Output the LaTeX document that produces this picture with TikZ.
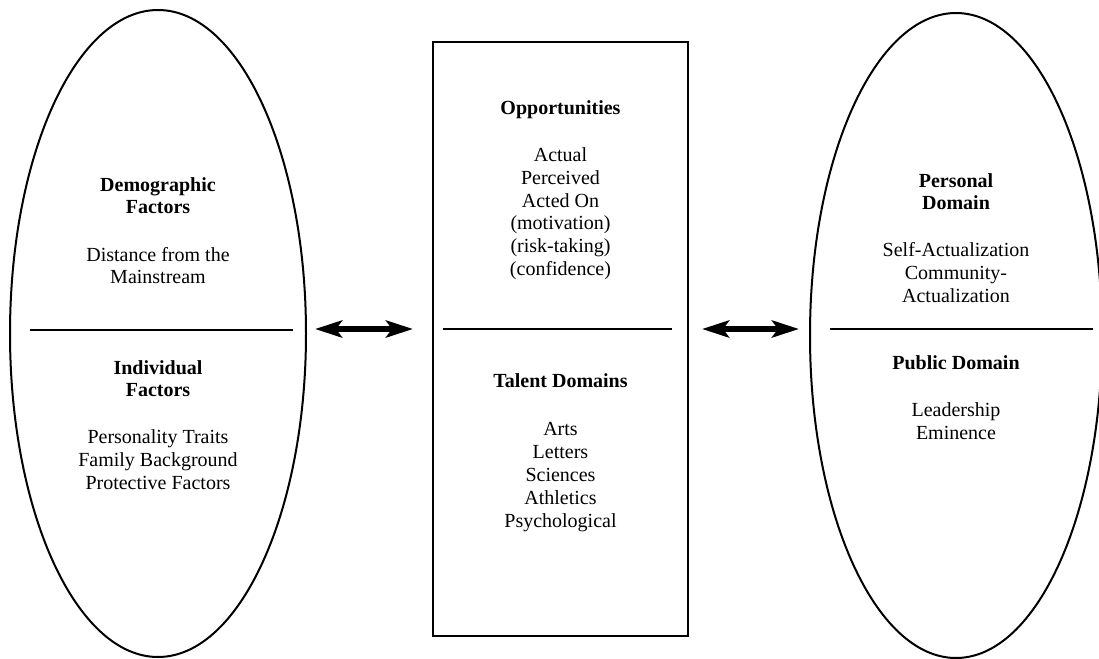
\documentclass[tikz,border=0pt]{standalone}
\usepackage{fontspec}
\setmainfont{Liberation Serif}
\usetikzlibrary{shapes.geometric,arrows.meta}

\begin{document}
\begin{tikzpicture}[x=0.5pt,y=-0.5pt,
  outline/.style={draw=black, line width=1pt, inner sep=0pt},
  oval/.style={outline, ellipse},
  panel/.style={outline, rectangle},
  divider/.style={draw=black, line width=0.7pt},
  twoway/.style={line width=3pt, {Stealth[length=13.5pt,width=8.5pt,inset=3pt]}-{Stealth[length=13.5pt,width=8.5pt,inset=3pt]}},
  txt/.style={align=center, inner sep=0pt, font=\fontsize{10}{11.4}\selectfont},
  head/.style={txt, font=\fontsize{10}{11.4}\selectfont\bfseries}]

  % page frame
  \useasboundingbox (0,0) rectangle (1099,659);
  \clip (0,0) rectangle (1099,659);

  % three main shapes
  \node[oval, minimum width=148pt, minimum height=323.5pt] (L) at (158,333.5) {};
  \node[panel, minimum width=127.5pt, minimum height=297pt] (C) at (560.5,339) {};
  \node[oval, minimum width=146pt, minimum height=322.5pt] (R) at (956,335.5) {};

  % dividers
  \coordinate (l1) at (30,330);   \coordinate (l2) at (293,330);
  \coordinate (c1) at (443,329);  \coordinate (c2) at (672,329);
  \coordinate (r1) at (830,329);  \coordinate (r2) at (1093,329);
  \draw[divider] (l1) -- (l2);
  \draw[divider] (c1) -- (c2);
  \draw[divider] (r1) -- (r2);

  % two-way arrows
  \coordinate (a1) at (315,329);  \coordinate (b1) at (413,329);
  \coordinate (a2) at (702,329);  \coordinate (b2) at (799,329);
  \draw[twoway] (a1) -- (b1);
  \draw[twoway] (a2) -- (b2);

  % left oval text
  \node[head] (demo) at (158,198) {\strut Demographic\\\strut Factors};
  \node[txt] (dist) at (158,268) {\strut Distance from the\\\strut Mainstream};
  \node[head] (indiv) at (158,381) {\strut Individual\\\strut Factors};
  \node[txt] (indivlist) at (158,462) {\strut Personality Traits\\\strut Family Background\\\strut Protective Factors};

  % center panel text
  \node[head] (opp) at (560.5,110) {\strut Opportunities};
  \node[txt] (opplist) at (560.5,214) {\strut Actual\\\strut Perceived\\\strut Acted On\\\strut (motivation)\\\strut (risk-taking)\\\strut (confidence)};
  \node[head] (talent) at (560.5,383) {\strut Talent Domains};
  \node[txt] (talentlist) at (560.5,477) {\strut Arts\\\strut Letters\\\strut Sciences\\\strut Athletics\\\strut Psychological};

  % right oval text
  \node[head] (pers) at (956,194) {\strut Personal\\\strut Domain};
  \node[txt] (perslist) at (956,275) {\strut Self-Actualization\\\strut Community-\\\strut Actualization};
  \node[head] (pub) at (956,365) {\strut Public Domain};
  \node[txt] (publist) at (956,423.5) {\strut Leadership\\\strut Eminence};
\end{tikzpicture}
\end{document}
